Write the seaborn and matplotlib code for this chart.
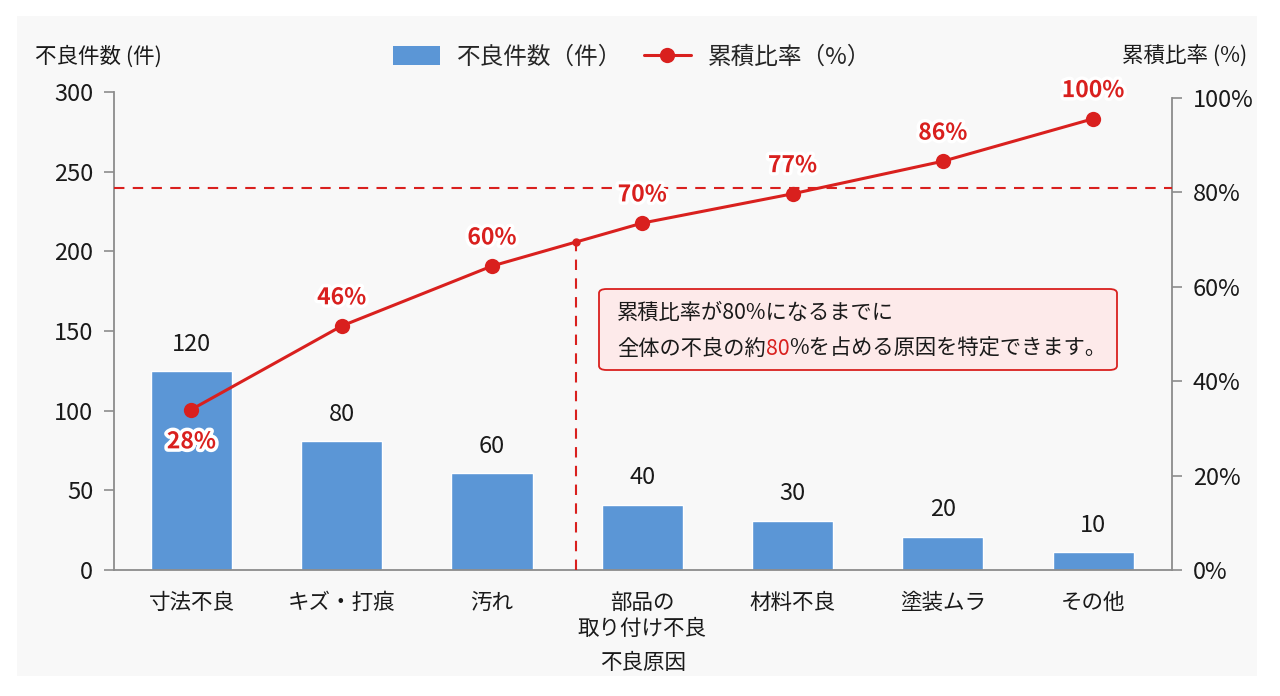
import numpy as np
import pandas as pd
import matplotlib
matplotlib.use("Agg")
import matplotlib.pyplot as plt
import matplotlib.patheffects as pe
from matplotlib.patches import FancyBboxPatch, Rectangle, Patch
from matplotlib.lines import Line2D
import seaborn as sns

# ---- data ----
categories = ["寸法不良", "キズ・打痕", "汚れ", "部品の\n取り付け不良", "材料不良", "塗装ムラ", "その他"]
bar_heights = [125, 81, 61, 41, 31, 21, 11]          # drawn bar heights (件)
bar_labels = ["120", "80", "60", "40", "30", "20", "10"]
cum_values = [34.0, 51.7, 64.4, 73.5, 79.7, 86.6, 95.6]  # drawn line points (%)
cum_labels = ["28%", "46%", "60%", "70%", "77%", "86%", "100%"]
left_ticks = [0, 50, 100, 150, 200, 250, 300]
right_ticks = [0, 20, 40, 60, 80, 100]
threshold_pct = 81.0
cut_x = 2.56

BLUE = "#5b96d6"
RED = "#d9201e"
GRAY = "#8c8c8c"
TXT = "#1a1a1a"

sns.set_theme(style="white")
plt.rcParams["font.family"] = ["Noto Sans CJK JP", "DejaVu Sans"]

fig = plt.figure(figsize=(12.8, 6.96), dpi=100)
fig.patch.set_facecolor("white")
fig.patches.append(Rectangle((17 / 1280, 1 - 676 / 696), 1240 / 1280, 660 / 696,
                             transform=fig.transFigure, facecolor="#f8f8f8",
                             edgecolor="none", zorder=-10))

ax = fig.add_axes([114 / 1280, 1 - 570 / 696, (1172 - 114) / 1280, (570 - 92) / 696])
ax.set_facecolor("none")

df = pd.DataFrame({"cat": categories, "count": bar_heights})
sns.barplot(data=df, x="cat", y="count", color=BLUE, saturation=1, width=0.54, ax=ax, zorder=2)
for i, (h, lab) in enumerate(zip(bar_heights, bar_labels)):
    ax.annotate(lab, (i, h), xytext=(0, 11), textcoords="offset points",
                ha="center", va="bottom", fontsize=17, color=TXT)

ax.set_xlim(-0.515, 6.525)
ax.set_ylim(0, 300)
ax.set_yticks(left_ticks)
ax.set_yticklabels([str(t) for t in left_ticks])
ax.tick_params(axis="y", which="both", left=True, length=7, width=1.2, color=GRAY,
               labelsize=17, pad=8, labelcolor=TXT)
ax.tick_params(axis="x", bottom=False, labelsize=15.5, pad=10, labelcolor=TXT)
ax.set_xlabel("不良原因", fontsize=15.5, color=TXT, labelpad=9)
ax.set_ylabel("")
for s in ["top", "right"]:
    ax.spines[s].set_visible(False)
for s in ["left", "bottom"]:
    ax.spines[s].set_color(GRAY)
    ax.spines[s].set_linewidth(1.3)

ax2 = ax.twinx()
ax2.set_ylim(0, 100 * 478 / 472)
line_df = pd.DataFrame({"x": np.arange(len(cum_values)), "y": cum_values})
sns.lineplot(data=line_df, x="x", y="y", ax=ax2, color=RED, linewidth=2.2,
             marker="o", markersize=11, markeredgewidth=0, zorder=5)
ax2.set_xlim(ax.get_xlim())
for i, (v, lab) in enumerate(zip(cum_values, cum_labels)):
    if i == 0:
        t = ax2.annotate(lab, (i, v), xytext=(0, -15), textcoords="offset points",
                         ha="center", va="top", fontsize=16.5, fontweight="bold", color=RED,
                         zorder=8)
    else:
        t = ax2.annotate(lab, (i, v), xytext=(0, 12), textcoords="offset points",
                         ha="center", va="bottom", fontsize=16.5, fontweight="bold", color=RED,
                         zorder=8)
    t.set_path_effects([pe.withStroke(linewidth=5, foreground="white")])

ax2.set_yticks(right_ticks)
ax2.set_yticklabels([f"{t}%" for t in right_ticks])
ax2.tick_params(axis="y", right=True, length=7, width=1.2, color=GRAY,
                labelsize=17, pad=8, labelcolor=TXT)
ax2.set_ylabel("")
ax2.set_xlabel("")
for s in ["top", "left", "bottom"]:
    ax2.spines[s].set_visible(False)
ax2.spines["right"].set_color(GRAY)
ax2.spines["right"].set_linewidth(1.3)
ax2.spines["right"].set_bounds(0, 100)

# 80% threshold and cut line
ax2.axhline(threshold_pct, color=RED, linestyle=(0, (5, 4)), linewidth=1.5, zorder=3)
cut_y = np.interp(cut_x, np.arange(len(cum_values)), cum_values)
ax2.plot([cut_x, cut_x], [0, cut_y], color=RED, linestyle=(0, (5, 4)), linewidth=1.5, zorder=3)
ax2.plot([cut_x], [cut_y], marker="o", markersize=5, color=RED, zorder=6)

# axis titles
fig.text(35 / 1280, 1 - 57 / 696, "不良件数 (件)", ha="left", va="center", fontsize=15.5, color=TXT)
fig.text(1247 / 1280, 1 - 57 / 696, "累積比率 (%)", ha="right", va="center", fontsize=15.5, color=TXT)

# legend
handles = [Patch(facecolor=BLUE, edgecolor="none"),
           Line2D([0], [0], color=RED, linewidth=2.2, marker="o", markersize=11, markeredgewidth=0)]
fig.legend(handles, ["不良件数（件）", "累積比率（%）"], loc="center", ncol=2,
           bbox_to_anchor=(632 / 1280, 1 - 57 / 696), frameon=False, fontsize=17,
           handlelength=2.0, handleheight=0.85, handletextpad=0.7, columnspacing=0.9)

# annotation box
box = FancyBboxPatch((599 / 1280, 1 - 370 / 696), 518 / 1280, 81 / 696,
                     boxstyle="round,pad=0,rounding_size=0.006", transform=fig.transFigure,
                     facecolor="#fdeaea", edgecolor=RED, linewidth=1.3, zorder=10)
fig.patches.append(box)
fig.text(617 / 1280, 1 - 313 / 696, "累積比率が80%になるまでに", ha="left", va="center",
         fontsize=15.3, color=TXT, zorder=11)
t1 = fig.text(617 / 1280, 1 - 349 / 696, "全体の不良の約", ha="left", va="center",
              fontsize=15.3, color=TXT, zorder=11)
t2 = fig.text(0, 0, "80", fontsize=15.3, color=RED, zorder=11)
t3 = fig.text(0, 0, "%を占める原因を特定できます。", fontsize=15.3, color=TXT, zorder=11)
fig.canvas.draw()
r = fig.canvas.get_renderer()
inv = fig.transFigure.inverted()
bb1 = t1.get_window_extent(r)
x1, y1 = inv.transform((bb1.x1, bb1.y0))
t2.set_position((x1, y1)); t2.set_va("bottom"); t2.set_ha("left")
fig.canvas.draw()
bb2 = t2.get_window_extent(r)
x2, _ = inv.transform((bb2.x1, bb2.y0))
t3.set_position((x2, y1)); t3.set_va("bottom"); t3.set_ha("left")

fig.savefig("out.png", dpi=100, facecolor=fig.get_facecolor())
